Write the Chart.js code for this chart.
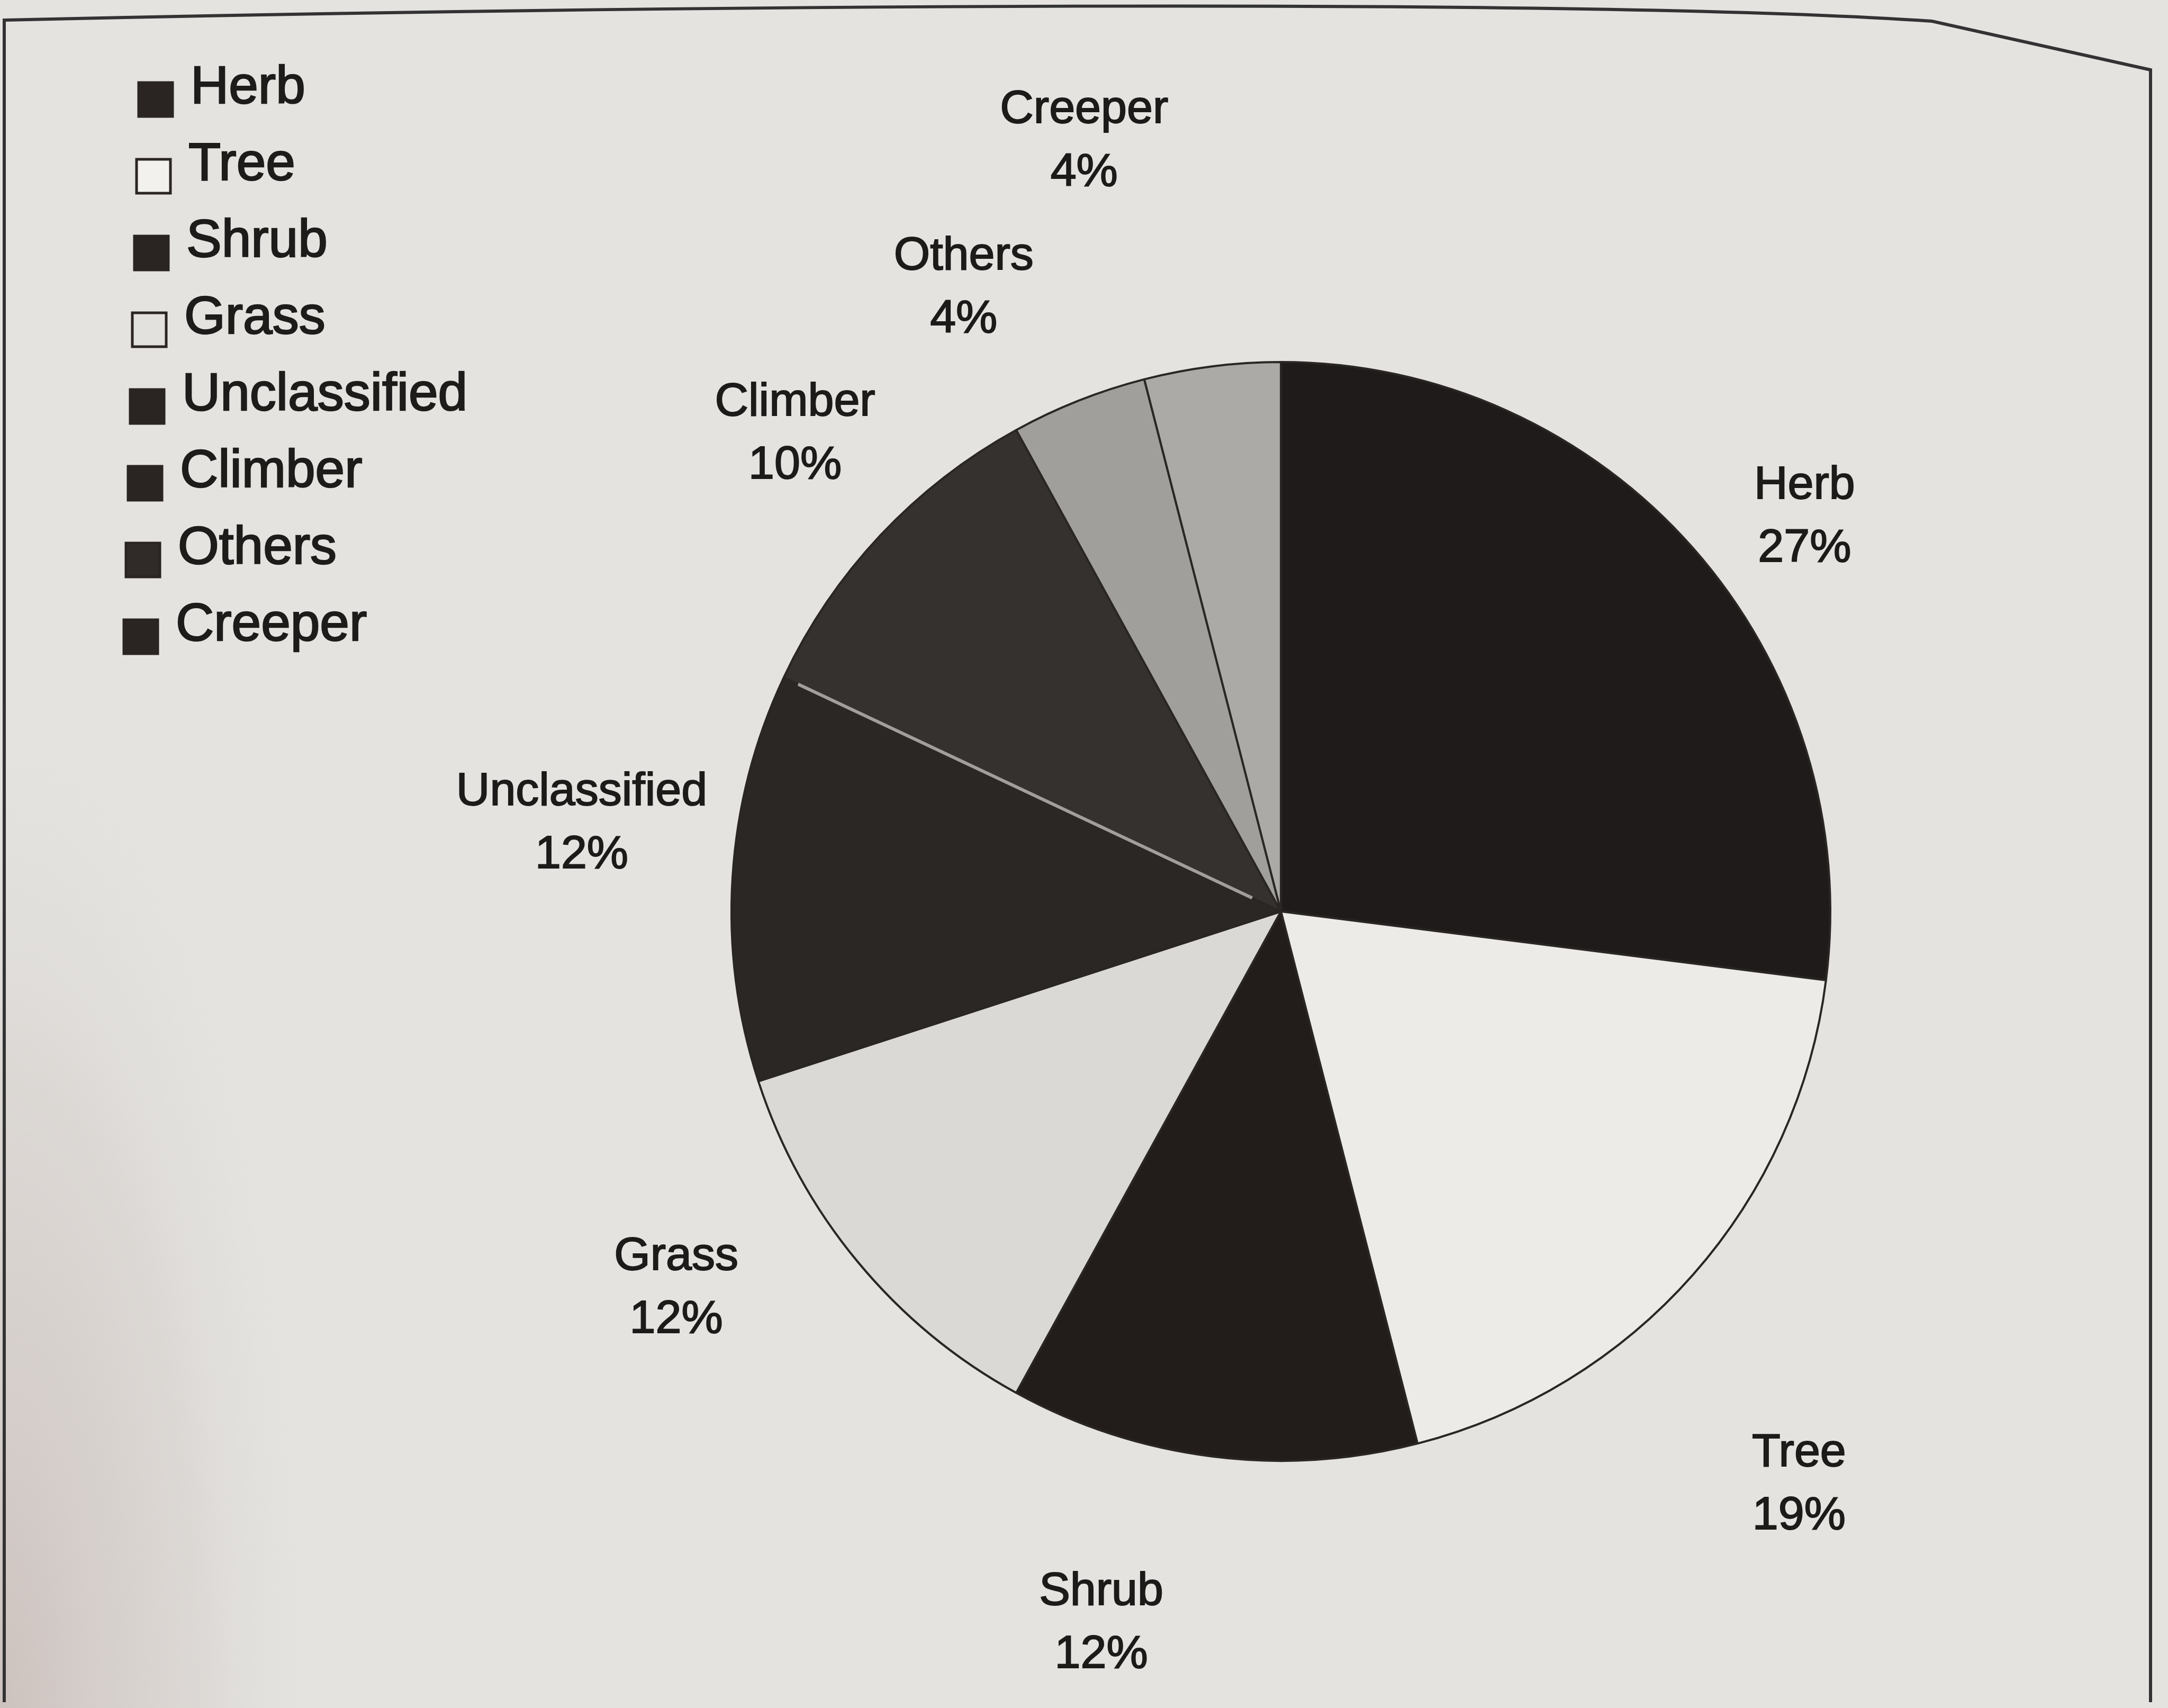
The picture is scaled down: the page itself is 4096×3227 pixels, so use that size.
<!DOCTYPE html>
<html>
<head>
<meta charset="utf-8">
<title>Plant habit distribution</title>
<script src="https://cdn.jsdelivr.net/npm/chart.js@4.4.1/dist/chart.umd.min.js"></script>
<style>
  html, body { margin: 0; padding: 0; background: #e4e3e0; }
  #wrap { width: 4096px; height: 3227px; }
</style>
</head>
<body>
<div id="wrap"><canvas id="habitChart" width="4096" height="3227"></canvas></div>
<script>
// Data
const categories = ['Herb', 'Tree', 'Shrub', 'Grass', 'Unclassified', 'Climber', 'Others', 'Creeper'];
const shares = [27, 19, 12, 12, 12, 10, 4, 4];

// Slice fills (grey-scale print)
const sliceColors = ['#1f1b1a', '#ecebe8', '#221c1b', '#dad9d6', '#2b2725', '#35312e', '#a09f9b', '#abaaa6'];
// legend squares as printed (Others / Creeper come out dark in the key)
const keyColors = ['#2a2523', '#f2f1ee', '#2a2523', '#e2e1de', '#2a2523', '#2a2523', '#302b29', '#2a2523'];

// label placement: angle nudge (deg, clockwise) and distance in radii
const labelShift = [4.3, 6.4, 7.0, 7.8, 3.7, 1.4, -5.3, -7.1];
const labelDist = [1.195, 1.404, 1.333, 1.295, 1.283, 1.242, 1.276, 1.45];

const FONT = '"Liberation Sans", Arial, Helvetica, sans-serif';

// paper background and the photographed frame
const paperFrame = {
    id: 'paperFrame',
    beforeDraw(chart) {
        const ctx = chart.ctx;
        ctx.save();
        ctx.fillStyle = '#e4e3e0';
        ctx.fillRect(0, 0, chart.width, chart.height);
        // soft shadow down the lower left edge
        ctx.save();
        ctx.translate(0, 3227);
        ctx.scale(1, 3.2);
        const g = ctx.createRadialGradient(0, 0, 0, 0, 0, 620);
        g.addColorStop(0, 'rgba(200,188,184,0.85)');
        g.addColorStop(0.6, 'rgba(210,202,198,0.45)');
        g.addColorStop(1, 'rgba(228,227,224,0)');
        ctx.fillStyle = g;
        ctx.fillRect(0, -620, 620, 620);
        ctx.restore();

        ctx.strokeStyle = '#333';
        ctx.lineWidth = 6;
        ctx.beginPath();
        ctx.moveTo(8, 3216);
        ctx.lineTo(8, 38);
        ctx.bezierCurveTo(1200, 10, 3000, -5, 3650, 40);
        ctx.lineTo(4063, 132);
        ctx.lineTo(4063, 3216);
        ctx.stroke();
        ctx.restore();
    }
};

// key in the top left corner
const habitKey = {
    id: 'habitKey',
    afterDraw(chart) {
        const ctx = chart.ctx;
        ctx.save();
        ctx.font = '100px ' + FONT;
        ctx.textBaseline = 'alphabetic';
        ctx.textAlign = 'left';
        categories.forEach((name, i) => {
            const base = 195 + i * 145;
            const sx = 262 - i * 4;
            ctx.fillStyle = keyColors[i];
            ctx.strokeStyle = '#2a2523';
            ctx.lineWidth = 5;
            ctx.fillRect(sx, base - 39, 64, 64);
            ctx.strokeRect(sx, base - 39, 64, 64);
            ctx.fillStyle = '#1e1c1b';
            ctx.strokeStyle = '#1e1c1b';
            ctx.lineWidth = 2.5;
            ctx.fillText(name, sx + 98, base);
            ctx.strokeText(name, sx + 98, base);
        });
        ctx.restore();
    }
};

// category + percent outside each slice, plus the pale seam under Climber
const sliceLabels = {
    id: 'sliceLabels',
    afterDatasetsDraw(chart) {
        const ctx = chart.ctx;
        const meta = chart.getDatasetMeta(0);
        ctx.save();

        const climber = meta.data[categories.indexOf('Climber')];
        ctx.strokeStyle = 'rgba(175,172,168,0.9)';
        ctx.lineWidth = 6;
        ctx.beginPath();
        ctx.moveTo(climber.x + Math.cos(climber.startAngle) * 60, climber.y + Math.sin(climber.startAngle) * 60);
        ctx.lineTo(climber.x + Math.cos(climber.startAngle) * (climber.outerRadius - 30),
                   climber.y + Math.sin(climber.startAngle) * (climber.outerRadius - 30));
        ctx.stroke();

        ctx.font = '88px ' + FONT;
        ctx.fillStyle = '#1c1b1a';
        ctx.strokeStyle = '#1c1b1a';
        ctx.lineWidth = 2;
        ctx.textAlign = 'center';
        ctx.textBaseline = 'middle';
        meta.data.forEach((arc, i) => {
            const a = (arc.startAngle + arc.endAngle) / 2 + labelShift[i] * Math.PI / 180;
            const r = arc.outerRadius * labelDist[i];
            const x = arc.x + Math.cos(a) * r;
            const y = arc.y + Math.sin(a) * r;
            const pct = shares[i] + '%';
            ctx.fillText(categories[i], x, y - 56);
            ctx.strokeText(categories[i], x, y - 56);
            ctx.fillText(pct, x, y + 63);
            ctx.strokeText(pct, x, y + 63);
        });
        ctx.restore();
    }
};

new Chart(document.getElementById('habitChart'), {
    type: 'pie',
    data: {
        labels: categories,
        datasets: [{
            data: shares,
            backgroundColor: sliceColors,
            borderColor: '#2a2624',
            borderWidth: 4
        }]
    },
    options: {
        responsive: false,
        animation: false,
        devicePixelRatio: 1,
        layout: {
            padding: { left: 1380, right: 636, top: 682, bottom: 465 }
        },
        plugins: {
            legend: { display: false },
            tooltip: { enabled: false },
            title: { display: false }
        }
    },
    plugins: [paperFrame, sliceLabels, habitKey]
});
</script>
</body>
</html>
